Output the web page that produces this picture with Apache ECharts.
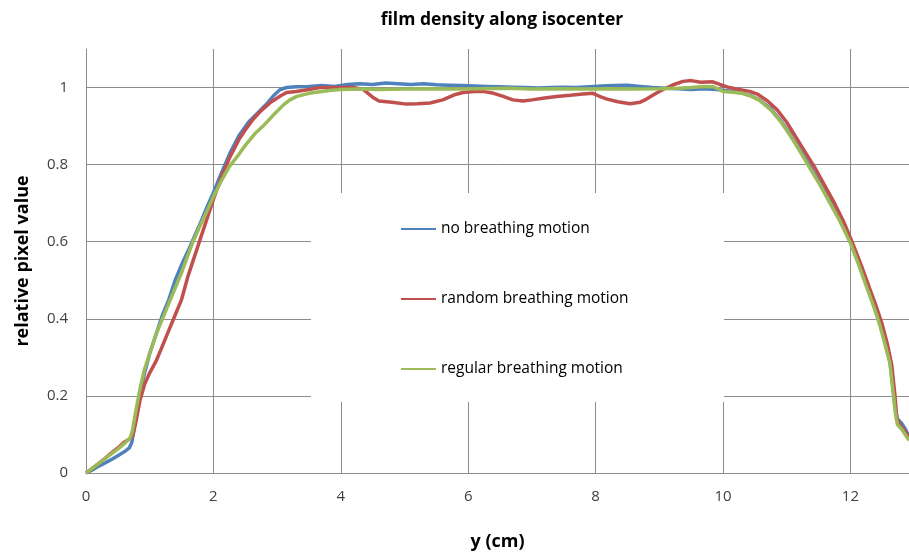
<!DOCTYPE html>
<html>
<head>
<meta charset="utf-8">
<script src="https://cdn.jsdelivr.net/npm/echarts@6/dist/echarts.min.js"></script>
<style>html,body{margin:0;padding:0;background:#fff}#c{width:909px;height:557px}</style>
</head>
<body>
<div id="c"></div>
<script>
var seriesNames = ['no breathing motion', 'random breathing motion', 'regular breathing motion'];
var xTicks = [0, 2, 4, 6, 8, 10, 12];
var yTicks = [0, 0.2, 0.4, 0.6, 0.8, 1];

var noMotion = [[0,0.0],[0.1,0.008],[0.2,0.018],[0.3,0.026],[0.4,0.035],[0.5,0.045],[0.6,0.055],[0.68,0.065],[0.72,0.08],[0.76,0.12],[0.8,0.16],[0.85,0.21],[0.92,0.26],[1.0,0.31],[1.1,0.36],[1.2,0.41],[1.3,0.45],[1.4,0.5],[1.5,0.54],[1.6,0.575],[1.68,0.605],[1.8,0.65],[1.9,0.69],[2.0,0.727],[2.13,0.78],[2.26,0.83],[2.4,0.875],[2.55,0.91],[2.73,0.94],[2.85,0.96],[2.95,0.98],[3.05,0.995],[3.15,1.0],[3.3,1.002],[3.5,1.003],[3.7,1.005],[3.9,1.003],[4.1,1.008],[4.3,1.01],[4.5,1.008],[4.7,1.012],[4.9,1.01],[5.1,1.008],[5.3,1.01],[5.5,1.007],[5.7,1.006],[5.9,1.005],[6.1,1.004],[6.3,1.003],[6.5,1.002],[6.7,1.001],[6.9,1.0],[7.1,0.999],[7.3,1.0],[7.5,1.001],[7.7,1.0],[7.9,1.002],[8.1,1.004],[8.3,1.005],[8.5,1.006],[8.7,1.003],[8.9,1.0],[9.1,0.998],[9.3,0.997],[9.5,0.995],[9.7,0.997],[9.9,0.995],[10.0,0.993],[10.15,0.99],[10.31,0.985],[10.45,0.978],[10.58,0.967],[10.75,0.945],[10.9,0.915],[11.05,0.88],[11.2,0.84],[11.35,0.8],[11.52,0.752],[11.68,0.705],[11.84,0.655],[12.0,0.6],[12.13,0.545],[12.26,0.485],[12.36,0.44],[12.46,0.39],[12.55,0.335],[12.62,0.29],[12.67,0.22],[12.71,0.16],[12.74,0.14],[12.8,0.13],[12.86,0.115],[12.92,0.095]];

var randomMotion = [[0,0.0],[0.1,0.012],[0.2,0.025],[0.3,0.038],[0.4,0.052],[0.5,0.065],[0.6,0.08],[0.7,0.09],[0.74,0.1],[0.78,0.13],[0.85,0.19],[0.92,0.23],[1.0,0.26],[1.1,0.29],[1.2,0.33],[1.3,0.37],[1.4,0.41],[1.5,0.45],[1.6,0.51],[1.7,0.56],[1.79,0.605],[1.9,0.66],[2.0,0.71],[2.13,0.77],[2.26,0.82],[2.4,0.865],[2.5,0.89],[2.62,0.917],[2.75,0.94],[2.9,0.962],[3.05,0.978],[3.15,0.987],[3.3,0.99],[3.5,0.995],[3.67,1.0],[3.85,1.0],[4.0,1.0],[4.2,1.0],[4.35,0.995],[4.5,0.975],[4.6,0.965],[4.8,0.962],[5.03,0.957],[5.2,0.958],[5.4,0.96],[5.6,0.968],[5.8,0.982],[5.92,0.987],[6.1,0.99],[6.23,0.99],[6.4,0.985],[6.55,0.977],[6.7,0.968],[6.86,0.965],[7.0,0.968],[7.2,0.973],[7.39,0.977],[7.6,0.98],[7.8,0.983],[7.96,0.985],[8.05,0.978],[8.18,0.97],[8.35,0.963],[8.54,0.958],[8.7,0.962],[8.8,0.97],[8.95,0.985],[9.06,0.995],[9.2,1.006],[9.37,1.016],[9.5,1.018],[9.65,1.014],[9.84,1.015],[9.95,1.008],[10.1,1.0],[10.25,0.995],[10.42,0.99],[10.55,0.982],[10.7,0.965],[10.85,0.942],[11.0,0.91],[11.15,0.87],[11.3,0.83],[11.45,0.79],[11.6,0.745],[11.75,0.7],[11.9,0.65],[12.05,0.59],[12.18,0.535],[12.3,0.48],[12.4,0.435],[12.5,0.385],[12.58,0.335],[12.65,0.28],[12.7,0.2],[12.73,0.14],[12.78,0.125],[12.85,0.11],[12.92,0.092]];

var regularMotion = [[0,0.0],[0.1,0.012],[0.2,0.025],[0.3,0.037],[0.4,0.05],[0.5,0.062],[0.6,0.076],[0.69,0.09],[0.73,0.11],[0.77,0.15],[0.85,0.22],[0.92,0.27],[1.0,0.31],[1.1,0.36],[1.2,0.4],[1.3,0.44],[1.4,0.48],[1.5,0.52],[1.6,0.565],[1.68,0.6],[1.8,0.645],[1.9,0.68],[2.0,0.717],[2.13,0.76],[2.25,0.795],[2.37,0.82],[2.5,0.85],[2.65,0.88],[2.78,0.9],[2.95,0.93],[3.1,0.955],[3.2,0.968],[3.31,0.977],[3.5,0.985],[3.7,0.99],[3.85,0.993],[4.0,0.995],[4.3,0.996],[4.6,0.995],[5.0,0.996],[5.4,0.997],[5.8,0.996],[6.2,0.997],[6.6,0.998],[7.0,0.996],[7.4,0.997],[7.8,0.996],[8.2,0.997],[8.6,0.996],[9.0,0.997],[9.3,0.998],[9.5,1.0],[9.7,1.003],[9.85,1.002],[10.0,0.99],[10.15,0.988],[10.31,0.985],[10.45,0.977],[10.58,0.966],[10.75,0.942],[10.9,0.913],[11.05,0.877],[11.2,0.837],[11.35,0.795],[11.52,0.748],[11.68,0.7],[11.84,0.652],[12.0,0.597],[12.13,0.54],[12.26,0.48],[12.36,0.435],[12.46,0.385],[12.55,0.33],[12.62,0.285],[12.67,0.21],[12.71,0.15],[12.74,0.125],[12.8,0.115],[12.86,0.1],[12.92,0.085]];

var colors = ['#4F81BD', '#C0504D', '#9BBB59'];
var FONT = '"Open Sans", Lato, sans-serif';
var chart = echarts.init(document.getElementById('c'), null, {renderer: 'canvas'});
var grid = '#8c8c8c';
function gridColors(n) { var a = []; for (var i = 0; i < n; i++) a.push(grid); a.push('rgba(0,0,0,0)'); return a; }

chart.setOption({
  animation: false,
  backgroundColor: '#fff',
  title: {
    text: 'film density along isocenter',
    left: 497, top: 6, textAlign: 'center',
    textStyle: {fontFamily: FONT, fontWeight: 'bold', fontSize: 17.5, color: '#000'}
  },
  grid: {left: 86, top: 49, width: 823, height: 424, containLabel: false},
  xAxis: {
    type: 'value', min: xTicks[0], max: 12.92, interval: 2,
    name: 'y (cm)', nameLocation: 'middle', nameGap: 60,
    nameTextStyle: {fontFamily: FONT, fontWeight: 'bold', fontSize: 18, color: '#000'},
    axisLine: {show: true, lineStyle: {color: grid, width: 1}},
    axisTick: {show: false},
    axisLabel: {fontFamily: FONT, fontSize: 15, color: '#404040', margin: 16, showMaxLabel: false,
      formatter: function (v) { return xTicks.indexOf(v) >= 0 ? String(v) : ''; }},
    splitLine: {show: true, lineStyle: {color: gridColors(xTicks.length), width: 1}}
  },
  yAxis: {
    type: 'value', min: yTicks[0], max: 1.1, interval: 0.2,
    name: 'relative pixel value', nameLocation: 'middle', nameGap: 54, nameRotate: 90,
    nameTextStyle: {fontFamily: FONT, fontWeight: 'bold', fontSize: 18, color: '#000'},
    axisLine: {show: true, lineStyle: {color: grid, width: 1}},
    axisTick: {show: false},
    axisLabel: {fontFamily: FONT, fontSize: 15, color: '#404040', margin: 18, showMaxLabel: false,
      formatter: function (v) { var r = Math.round(v * 10) / 10; return yTicks.indexOf(r) >= 0 && Math.abs(r - v) < 1e-6 ? String(r) : ''; }},
    splitLine: {show: true, lineStyle: {color: gridColors(yTicks.length), width: 1}}
  },
  graphic: [{
    type: 'rect', z: 1, silent: true,
    shape: {x: 311, y: 193, width: 413, height: 209},
    style: {fill: '#fff'}
  }],
  legend: {
    orient: 'vertical', left: 400, top: 221, padding: 0, itemGap: 54,
    itemWidth: 35, itemHeight: 18, itemStyle: {opacity: 0},
    textStyle: {fontFamily: FONT, fontSize: 15.5, color: '#000'},
    data: seriesNames
  },
  series: [
    {name: seriesNames[0], type: 'line', data: noMotion, symbol: 'none', z: 3,
      lineStyle: {color: colors[0], width: 3.5}, itemStyle: {color: colors[0]}},
    {name: seriesNames[1], type: 'line', data: randomMotion, symbol: 'none', z: 4,
      lineStyle: {color: colors[1], width: 3.5}, itemStyle: {color: colors[1]}},
    {name: seriesNames[2], type: 'line', data: regularMotion, symbol: 'none', z: 5,
      lineStyle: {color: colors[2], width: 3.5}, itemStyle: {color: colors[2]}}
  ]
});
</script>
</body>
</html>
